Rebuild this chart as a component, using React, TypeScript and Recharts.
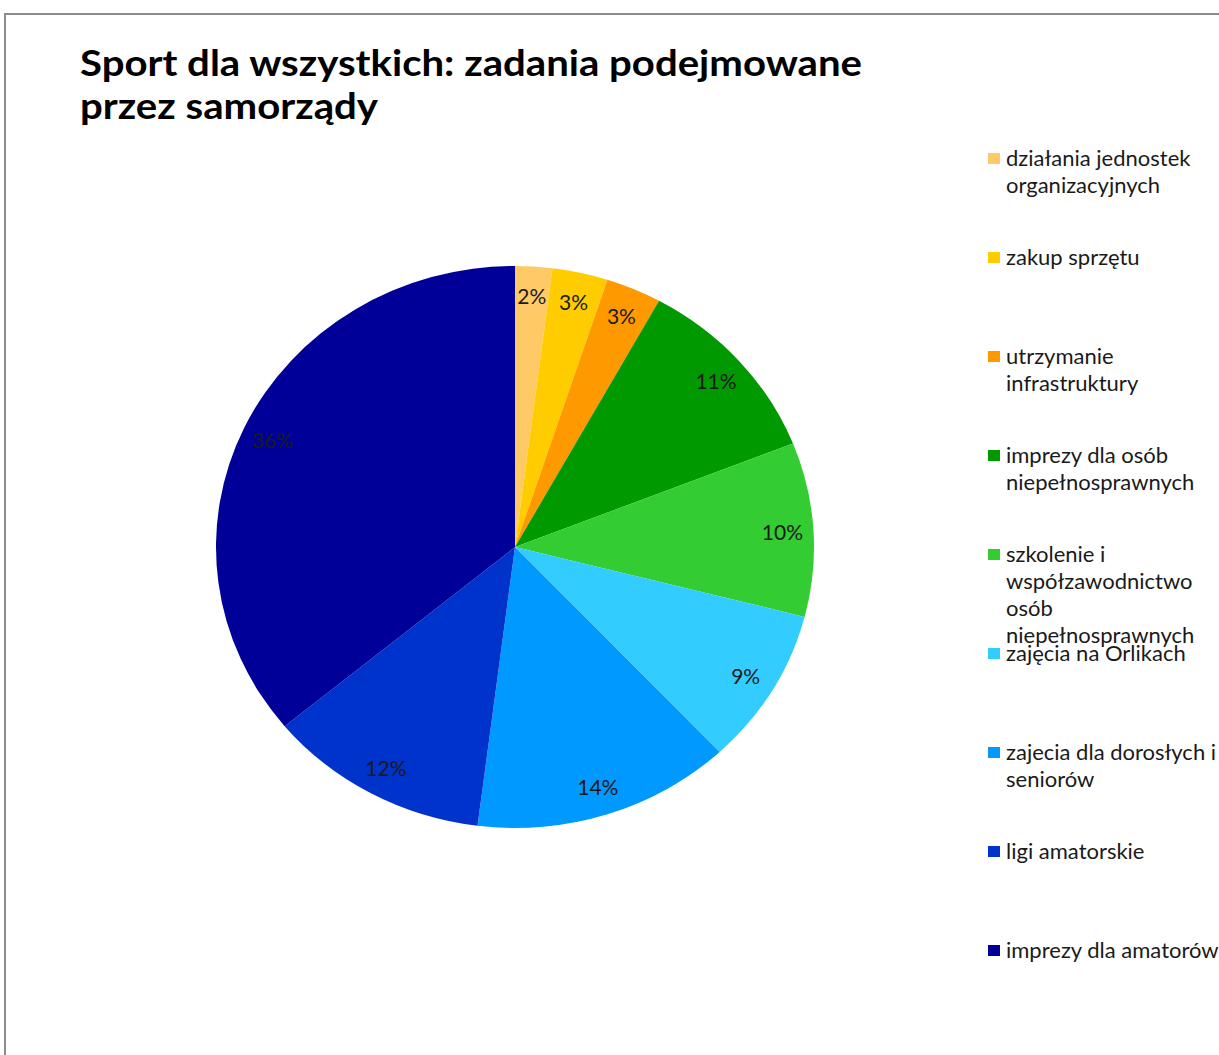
import { PieChart, Pie, Cell } from "recharts";

const titleLines = ["Sport dla wszystkich: zadania podejmowane", "przez samorządy"];
const titleWidths = [782, 298];

const categories = [
  "działania jednostek organizacyjnych",
  "zakup sprzętu",
  "utrzymanie infrastruktury",
  "imprezy dla osób niepełnosprawnych",
  "szkolenie i współzawodnictwo osób niepełnosprawnych",
  "zajęcia na Orlikach",
  "zajecia dla dorosłych i seniorów",
  "ligi amatorskie",
  "imprezy dla amatorów",
];

const values = [2, 3, 3, 11, 10, 9, 14, 12, 36];

const colors = [
  "#FFC966",
  "#FFCC00",
  "#FF9900",
  "#009900",
  "#33CC33",
  "#33CCFF",
  "#0099FF",
  "#0033CC",
  "#000099",
];

const data = categories.map((name, i) => ({ name, value: values[i] }));

// the original pie is a little flatter than it is wide
const SQUASH = 0.94;
const RAD = Math.PI / 180;
const FONT = "Lato, 'Noto Sans', sans-serif";

function renderLabel(props: any) {
  const { cx, cy, midAngle, value } = props;
  const r = 268;
  const x = cx + r * Math.cos(-midAngle * RAD);
  const y = cy + r * Math.sin(-midAngle * RAD);
  return (
    <text
      transform={`translate(${x} ${y}) scale(1 ${1 / SQUASH})`}
      textAnchor="middle"
      dominantBaseline="central"
      fontFamily={FONT}
      fontSize={21}
      fill="#1a1a1a"
    >
      {value}%
    </text>
  );
}

export default function App() {
  return (
    <div
      style={{
        position: "absolute",
        left: 0,
        top: 0,
        width: 1219,
        height: 1055,
        overflow: "hidden",
        background: "#fff",
        fontFamily: FONT,
      }}
    >
      <div
        style={{
          position: "absolute",
          left: 4,
          top: 13,
          width: 1400,
          height: 1200,
          borderLeft: "2px solid #8c8c8c",
          borderTop: "2px solid #8c8c8c",
        }}
      />

      <svg width={1219} height={140} style={{ position: "absolute", left: 0, top: 0 }}>
        {titleLines.map((line, i) => (
          <text
            key={i}
            x={80}
            y={76 + i * 43}
            fontFamily={FONT}
            fontWeight={700}
            fontSize={37}
            textLength={titleWidths[i]}
            lengthAdjust="spacingAndGlyphs"
            fill="#000"
          >
            {line}
          </text>
        ))}
      </svg>

      <div
        style={{
          position: "absolute",
          left: 165,
          top: 196.5,
          width: 700,
          height: 700,
          transform: `scaleY(${SQUASH})`,
          transformOrigin: "50% 50%",
        }}
      >
        <PieChart width={700} height={700}>
          <Pie
            data={data}
            dataKey="value"
            nameKey="name"
            cx="50%"
            cy="50%"
            outerRadius={299}
            startAngle={90}
            endAngle={-270}
            stroke="none"
            label={renderLabel}
            labelLine={false}
            isAnimationActive={false}
          >
            {data.map((d, i) => (
              <Cell key={d.name} fill={colors[i]} />
            ))}
          </Pie>
        </PieChart>
      </div>

      {categories.map((name, i) => (
        <div
          key={name}
          style={{
            position: "absolute",
            left: 988,
            top: 144 + i * 99,
            display: "flex",
            alignItems: "flex-start",
          }}
        >
          <div
            style={{
              width: 12,
              height: 11,
              marginTop: 9,
              marginRight: 6,
              background: colors[i],
              flexShrink: 0,
            }}
          />
          <div style={{ width: 224, fontSize: 22, lineHeight: "27px", color: "#1a1a1a" }}>{name}</div>
        </div>
      ))}
    </div>
  );
}
